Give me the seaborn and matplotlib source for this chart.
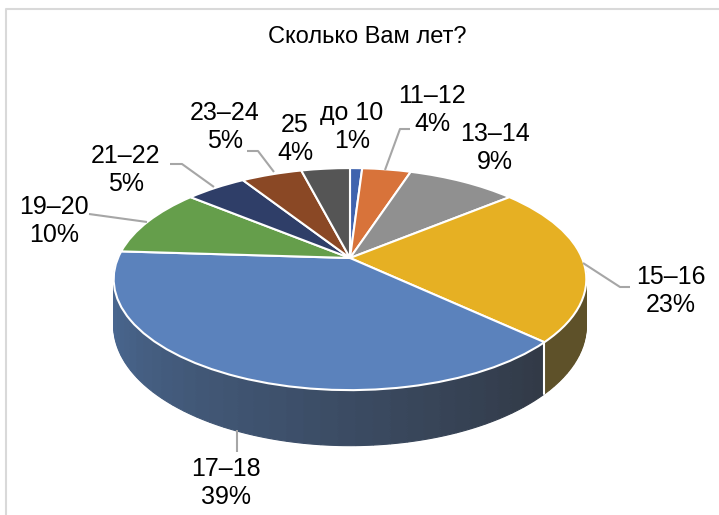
import numpy as np
import matplotlib
matplotlib.use("Agg")
import matplotlib.pyplot as plt
import seaborn as sns
from matplotlib.transforms import Transform

# data
ages = ["до 10", "11–12", "13–14", "15–16", "17–18", "19–20", "21–22", "23–24", "25"]
shares = [1, 4, 9, 23, 39, 10, 5, 5, 4]

top_colors = ["#3F63AE", "#D8733A", "#909090", "#E6B023", "#5B82BC",
              "#659E4B", "#2F3E68", "#8A4825", "#555555"]
# side wall shades (start -> end of each slice, clockwise)
side_colors = [("#2A4275", "#2A4275"), ("#8F4A22", "#8F4A22"), ("#5E5E5E", "#5E5E5E"),
               ("#5E5129", "#5E5129"), ("#323A47", "#4D6E9B"), ("#41672F", "#41672F"),
               ("#1E2844", "#1E2844"), ("#5A2F18", "#5A2F18"), ("#383838", "#383838")]

# label layout (pixel positions of text centres and leader lines)
label_pos = [(352, 127), (432, 110), (495, 148), (671, 291), (226, 483),
             (54, 221), (126, 170), (225, 127), (295, 139)]
leaders = [None, [(410, 129), (400, 129), (385, 170)], None,
           [(583, 263), (620, 287), (630, 287)], [(237, 430), (237, 452)],
           [(89, 214), (147, 222)], [(170, 164), (182, 164), (214, 187)],
           [(247, 151), (258, 151), (274, 172)], None]

# view of the tilted disc (pixels)
X0, Y0 = 350, 258
A, B, K = 232, 107, 0.19
T = 45


class PieView(Transform):
    """Maps the flat pie (unit disc) onto a tilted disc seen in perspective."""
    input_dims = 2
    output_dims = 2

    def __init__(self, lift=0.0):
        super().__init__()
        self.lift = lift

    def transform_non_affine(self, values):
        pts = np.asarray(values, dtype=float)
        u, v = pts[:, 0], pts[:, 1]
        w = 1 + K * v
        x = X0 + A * u / w
        y = Y0 - B * v / w + T * self.lift / w
        return np.column_stack([x, y])


sns.set_theme(style="white")
plt.rcParams["font.family"] = ["Liberation Sans", "DejaVu Sans"]

fig = plt.figure(figsize=(7.19, 5.15), dpi=100)
ax = fig.add_axes([0, 0, 1, 1])

# side wall: stacked layers, deepest first
n_sub = 40
sub_shares = np.repeat(shares, n_sub) / n_sub
sub_colors = []
for c0, c1 in side_colors:
    sub_colors += sns.blend_palette([c0, c1], n_sub)
for d in np.linspace(1, 0.02, 32):
    wedges, _ = ax.pie(sub_shares, colors=sub_colors, startangle=90, counterclock=False,
                       labeldistance=None, wedgeprops=dict(linewidth=0.8))
    for w in wedges:
        w.set_edgecolor(w.get_facecolor())
        w.set_transform(PieView(d) + ax.transData)

# top face
wedges, _ = ax.pie(shares, colors=top_colors, startangle=90, counterclock=False,
                   labeldistance=None, wedgeprops=dict(edgecolor="white", linewidth=1.5))
for w in wedges:
    w.set_transform(PieView(0) + ax.transData)

# white seams on the visible side wall
bounds = np.cumsum(shares) / np.sum(shares)
theta = np.deg2rad(90 - 360 * bounds)
for ui, vi in zip(np.cos(theta), np.sin(theta)):
    if vi < -K:
        p0 = PieView(0).transform(np.array([[ui, vi]]))[0]
        p1 = PieView(1).transform(np.array([[ui, vi]]))[0]
        ax.plot([p0[0], p1[0]], [p0[1], p1[1]], color="white", lw=1.5)

# labels and leader lines
for name, pct, pos, lead in zip(ages, shares, label_pos, leaders):
    ax.text(pos[0], pos[1], f"{name}\n{pct}%", ha="center", va="center",
            multialignment="center", fontsize=18, color="black")
    if lead:
        xs, ys = zip(*lead)
        ax.plot(xs, ys, color="#A6A6A6", lw=1.5, solid_capstyle="butt")

ax.text(367, 37, "Сколько Вам лет?", ha="center", va="center", fontsize=17, color="black")

# chart frame (only top and left edges fall inside the picture)
ax.plot([5.5, 5.5, 719], [515, 9, 9], color="#D9D9D9", lw=1.5)

ax.set_aspect("auto")
ax.set_xlim(0, 719)
ax.set_ylim(515, 0)
ax.axis("off")

fig.savefig("out.png", dpi=100)
